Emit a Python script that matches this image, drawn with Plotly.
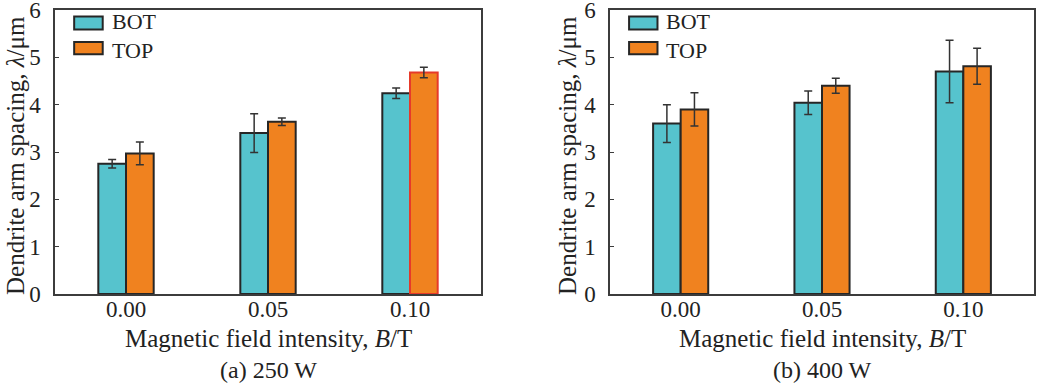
import plotly.graph_objects as go
from plotly.subplots import make_subplots

# ---------------- data ----------------
fields = ["0.00", "0.05", "0.10"]
series_names = ["BOT", "TOP"]
panel_titles = ["(a) 250 W", "(b) 400 W"]

bot_250 = [2.75, 3.40, 4.24]
bot_250_err = [0.09, 0.41, 0.11]
top_250 = [2.97, 3.64, 4.68]
top_250_err = [0.24, 0.08, 0.11]

bot_400 = [3.60, 4.04, 4.70]
bot_400_err = [0.40, 0.25, 0.66]
top_400 = [3.90, 4.40, 4.81]
top_400_err = [0.35, 0.16, 0.38]

y_ticks = [0, 1, 2, 3, 4, 5, 6]

# ---------------- style ----------------
FONT = "Liberation Serif"
C_BOT = "#56C3CD"
C_TOP = "#F0821F"
C_EDGE = "#262626"
C_RED = "#E63A2A"
C_AX = "#3c3c3c"
C_TXT = "#222222"
FS_TICK = 23
FS_TITLE = 25
FS_YTITLE = 25

fig = make_subplots(rows=1, cols=2)

panels = [
    (bot_250, bot_250_err, top_250, top_250_err, [C_EDGE, C_EDGE, C_RED]),
    (bot_400, bot_400_err, top_400, top_400_err, [C_EDGE, C_EDGE, C_EDGE]),
]

for i, (bv, be, tv, te, top_edges) in enumerate(panels):
    col = i + 1
    fig.add_trace(go.Bar(
        x=fields, y=bv, name=series_names[0], showlegend=False,
        marker=dict(color=C_BOT, line=dict(color=C_EDGE, width=2)),
        error_y=dict(type="data", array=be, color="#333333", thickness=1.5, width=4),
    ), row=1, col=col)
    fig.add_trace(go.Bar(
        x=fields, y=tv, name=series_names[1], showlegend=False,
        marker=dict(color=C_TOP, line=dict(color=top_edges, width=2)),
        error_y=dict(type="data", array=te, color="#333333", thickness=1.5, width=4),
    ), row=1, col=col)

fig.update_layout(
    width=1037, height=386,
    margin=dict(l=0, r=0, t=0, b=0),
    paper_bgcolor="white", plot_bgcolor="white",
    barmode="group", bargap=0.61, bargroupgap=0,
    font=dict(family=FONT, size=FS_TICK, color=C_TXT),
    xaxis=dict(domain=[55/1037, 481/1037]),
    xaxis2=dict(domain=[610/1037, 1034/1037]),
    yaxis=dict(domain=[(386-294)/386, (386-10)/386]),
    yaxis2=dict(domain=[(386-294)/386, (386-10)/386]),
)

fig.update_xaxes(
    type="category", range=[-0.5, 2.5], automargin=False,
    showline=True, mirror=True, linecolor=C_AX, linewidth=1.5,
    ticks="", showgrid=False, zeroline=False,
    tickfont=dict(family=FONT, size=FS_TICK, color=C_TXT),
    ticklabelstandoff=-6,
)
fig.update_yaxes(
    range=[0, 6.0001], tickvals=y_ticks, automargin=False,
    showline=True, mirror=True, linecolor=C_AX, linewidth=1.5,
    ticks="inside", ticklen=4, tickcolor=C_AX, tickwidth=1.2,
    showgrid=False, zeroline=False,
    tickfont=dict(family=FONT, size=FS_TICK, color=C_TXT),
    ticklabelstandoff=8,
    ticklabeloverflow="allow",
)

shapes = []
annotations = []
for i in range(2):
    xr = "x domain" if i == 0 else "x2 domain"
    yr = "y domain" if i == 0 else "y2 domain"
    # manual legend (wide swatches as in reference)
    for j, (c, y0, y1) in enumerate([(C_BOT, 0.931, 0.977), (C_TOP, 0.844, 0.887)]):
        shapes.append(dict(type="rect", xref=xr, yref=yr, x0=0.045, x1=0.112, y0=y0, y1=y1,
                           fillcolor=c, line=dict(color=C_EDGE, width=2)))
    annotations.append(dict(xref=xr, yref=yr, x=0.128, y=(0.931 + 0.887) / 2,
                            text="<br>".join(series_names), align="left",
                            showarrow=False, xanchor="left", yanchor="middle",
                            font=dict(family=FONT, size=22, color=C_TXT)))
    # x title
    annotations.append(dict(xref=xr, yref="paper", x=0.5, y=(386-338)/386,
                            text="Magnetic field intensity, <i>B</i>/T",
                            showarrow=False, xanchor="center", yanchor="middle",
                            font=dict(family=FONT, size=FS_TITLE, color=C_TXT)))
    # panel caption
    annotations.append(dict(xref=xr, yref="paper", x=0.5, y=(386-370)/386,
                            text=panel_titles[i],
                            showarrow=False, xanchor="center", yanchor="middle",
                            font=dict(family=FONT, size=24, color=C_TXT)))
    # y title
    xpix = 15 if i == 0 else 567
    annotations.append(dict(xref="paper", yref="paper", x=xpix/1037, y=(386-156)/386,
                            text="Dendrite arm spacing, <i>λ</i>/μm", textangle=-90,
                            showarrow=False, xanchor="center", yanchor="middle",
                            font=dict(family=FONT, size=FS_YTITLE, color=C_TXT)))

fig.update_layout(shapes=shapes, annotations=annotations)

fig.write_html(
    "out.html",
    config={"displayModeBar": False},
    post_script="document.body.style.margin='0';document.body.style.overflow='hidden';",
)
